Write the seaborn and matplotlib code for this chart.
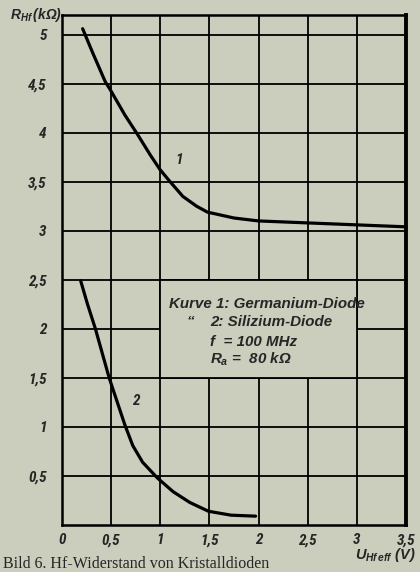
import pandas as pd
import seaborn as sns
import matplotlib.pyplot as plt
from matplotlib import font_manager
from matplotlib.patches import Rectangle

# Kurve 1: Germanium-Diode
u_ge = [0.21, 0.31, 0.44, 0.49, 0.64, 0.77, 0.90, 1.0, 1.10, 1.23, 1.37, 1.48,
        1.75, 2.0, 2.5, 3.0, 3.5]
r_ge = [5.06, 4.82, 4.52, 4.44, 4.18, 3.98, 3.77, 3.62, 3.50, 3.35, 3.25, 3.19,
        3.13, 3.10, 3.08, 3.06, 3.04]

# Kurve 2: Silizium-Diode
u_si = [0.19, 0.26, 0.34, 0.41, 0.48, 0.56, 0.64, 0.72, 0.82, 0.97, 1.13, 1.30,
        1.49, 1.72, 1.97]
r_si = [2.49, 2.25, 2.0, 1.75, 1.50, 1.26, 1.02, 0.81, 0.64, 0.48, 0.34, 0.23,
        0.14, 0.10, 0.09]

x_ticks = [0, 0.5, 1, 1.5, 2, 2.5, 3, 3.5]
x_labels = ['0', '0,5', '1', '1,5', '2', '2,5', '3', '3,5']
y_ticks = [0.5, 1, 1.5, 2, 2.5, 3, 3.5, 4, 4.5, 5]
y_labels = ['0,5', '1', '1,5', '2', '2,5', '3', '3,5', '4', '4,5', '5']

legend_lines = ['Kurve 1: Germanium-Diode', '2: Silizium-Diode',
                'f  = 100 MHz', r'$R_a$ =  80 kΩ']

# schmale Schrift, wenn vorhanden
installed = {f.name for f in font_manager.fontManager.ttflist}
narrow = [n for n in ['Liberation Sans Narrow', 'DejaVu Sans Condensed',
                      'Roboto Condensed', 'Liberation Sans', 'DejaVu Sans']
          if n in installed]
if not narrow:
    narrow = ['DejaVu Sans']
normal = ['Liberation Sans', 'DejaVu Sans']

paper = '#cbcdbd'
sns.set_style('white', {'axes.facecolor': paper, 'figure.facecolor': paper})
plt.rcParams['font.family'] = narrow
plt.rcParams['mathtext.fontset'] = 'custom'
plt.rcParams['mathtext.it'] = normal[0] + ':italic:bold'
plt.rcParams['mathtext.rm'] = normal[0] + ':bold'

df = pd.concat([
    pd.DataFrame({'U': u_ge, 'R': r_ge, 'Kurve': '1'}),
    pd.DataFrame({'U': u_si, 'R': r_si, 'Kurve': '2'}),
])

fig = plt.figure(figsize=(4.2, 5.72), dpi=100)
ax = fig.add_axes([0.1476, 0.0822, 0.819, 0.8916])

sns.lineplot(data=df, x='U', y='R', hue='Kurve', palette=['black', 'black'],
             linewidth=2.3, legend=False, ax=ax, zorder=3)

ax.set_xlim(0, 3.5)
ax.set_ylim(0, 5.2)
ax.set_xticks(x_ticks)
ax.set_xticklabels(x_labels)
ax.set_yticks(y_ticks)
ax.set_yticklabels(y_labels)
ax.tick_params(length=0, labelsize=11)
ax.tick_params(axis='x', pad=6)
ax.tick_params(axis='y', pad=11)
for lab in ax.get_xticklabels() + ax.get_yticklabels():
    lab.set_fontstyle('italic')
    lab.set_fontweight('bold')
ax.set_xlabel('')
ax.set_ylabel('')
ax.grid(True, color='black', linewidth=1.3)
ax.set_axisbelow(True)
for side in ax.spines.values():
    side.set_color('black')
    side.set_linewidth(1.8)
ax.spines['right'].set_linewidth(2.8)

# Feld fuer die Beschriftung (Gitter ausgespart)
ax.add_patch(Rectangle((1, 1.5), 2, 1, facecolor=paper, edgecolor='black',
                       linewidth=1.3, zorder=1))

txt = dict(fontsize=10.9, fontstyle='italic', fontweight='bold', va='center',
           family=normal, zorder=4)
ax.text(1.09, 2.25, legend_lines[0], **txt)
ax.text(1.27, 2.07, '\u201c', **txt)
ax.text(1.51, 2.07, legend_lines[1], **txt)
ax.text(1.51, 1.87, legend_lines[2], **txt)
ax.text(1.51, 1.69, legend_lines[3], **txt)

ax.text(1.15, 3.68, '1', fontsize=11, fontstyle='italic', fontweight='bold', zorder=4)
ax.text(0.71, 1.22, '2', fontsize=11, fontstyle='italic', fontweight='bold', zorder=4)

fig.text(0.025, 0.974, r'$R_{Hf}\,$(kΩ)', fontsize=10, fontstyle='italic',
         fontweight='bold', va='center', family=normal)
fig.text(0.99, 0.029, r'$U_{Hf\,eff}$ (V)', fontsize=10.5, fontstyle='italic',
         fontweight='bold', ha='right', va='center', family=normal)
fig.text(0.008, 0.028, 'Bild 6. Hf-Widerstand von Kristalldioden', fontsize=11.5,
         family=['Liberation Serif', 'DejaVu Serif'], va='top')

fig.savefig('out.png', dpi=100, facecolor=paper)
